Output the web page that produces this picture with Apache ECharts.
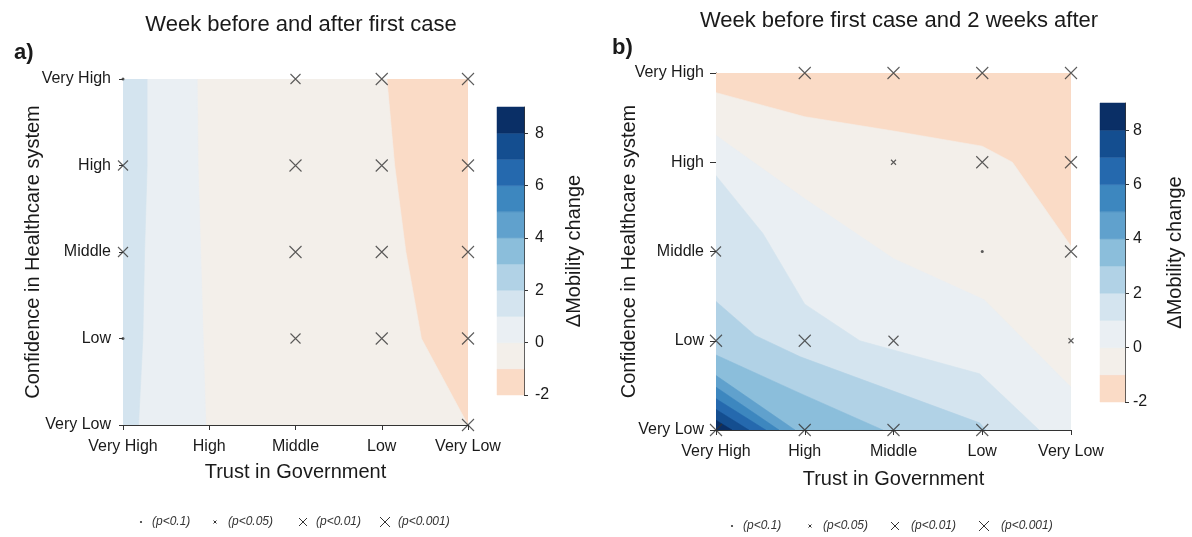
<!DOCTYPE html>
<html><head><meta charset="utf-8">
<script src="https://cdn.jsdelivr.net/npm/echarts@6/dist/echarts.min.js"></script>
<style>html,body{margin:0;padding:0;background:#fff}#c{width:1192px;height:537px}</style>
</head><body><div id="c"></div>
<script>
// ---------- data ----------
const trustLabels = ['Very High','High','Middle','Low','Very Low'];      // x index 0..4
const confLabels  = ['Very Low','Low','Middle','High','Very High'];      // y index 0..4
const levelBreaks = [-2,-1,0,1,2,3,4,5,6,7,8,9];
const levelColors = ['#FADBC6','#F3EFEA','#EAEFF3','#D4E4EF','#B1D2E6','#8BBEDB','#60A1CD','#3D87BF','#2569AE','#144E90','#0A2F66'];
const colorbarTicks = [-2,0,2,4,6,8];

// Panel a: contour lines (x = trust index, y = confidence index), region left of each line has value >= level
const aLine_m1 = [[3.06,4],[3.15,3],[3.28,2],[3.46,1],[4,0]];
const aLine_0  = [[0.86,4],[0.87,3],[0.90,2],[0.93,1],[0.96,0]];
const aLine_1  = [[0.28,4],[0.28,3],[0.25,2],[0.23,1],[0.18,0]];

// Panel b: contour lines, region below-left of each line has value >= level
const bLine_m1 = [[0,3.78],[1,3.51],[2,3.35],[3,3.18],[3.34,3.0],[4,2.06]];
const bLine_0  = [[0,3.30],[1,2.59],[2,1.92],[3.02,1.46],[4,0.48]];
const bLine_1  = [[0,2.85],[0.53,2.2],[1,1.41],[1.62,1.0],[2.97,0.63],[3.64,0]];
const bLine_2  = [[0,1.44],[0.44,1.06],[0.95,0.82],[2.97,0.08],[3.04,0]];
const bLine_3  = [[0,0.84],[0.95,0.41],[1.88,0]];
const bLine_4  = [[0,0.61],[0.89,0]];
const bLine_5  = [[0,0.48],[0.71,0]];
const bLine_6  = [[0,0.35],[0.56,0]];
const bLine_7  = [[0,0.23],[0.37,0]];
const bLine_8  = [[0,0.11],[0.18,0]];

// significance markers [x, y, code]: 1 p<0.1, 2 p<0.05, 3 p<0.01, 4 p<0.001
const aSig = [[0,4,1],[0,3,3],[0,2,3],[0,1,1],
  [2,4,3],[3,4,4],[4,4,4],
  [2,3,4],[3,3,4],[4,3,4],
  [2,2,4],[3,2,4],[4,2,4],
  [2,1,3],[3,1,4],[4,1,4],
  [4,0,4]];
const bSig = [[0,2,3],[0,1,4],[0,0,4],
  [1,4,4],[1,1,4],[1,0,4],
  [2,4,4],[2,3,2],[2,1,3],[2,0,4],
  [3,4,4],[3,3,4],[3,2,1],[3,0,4],
  [4,4,4],[4,3,4],[4,2,4],[4,1,2]];
const sigNames = ['', '(p<0.1)', '(p<0.05)', '(p<0.01)', '(p<0.001)'];

// ---------- build ----------
const FONT = "'Liberation Sans', Arial, sans-serif";
const TXT = '#1a1a1a';
const AX = '#333';
const sigSize = [0, 3, 5, 10, 12];
const X_PATH = 'path://M0,0L10,10M10,0L0,10';
const full = [[0,0],[4,0],[4,4],[0,4]];

function regionsA() {
  const r = [{level:0, poly: full}];
  [[aLine_m1,1],[aLine_0,2],[aLine_1,3]].forEach(([ln,lv]) => {
    r.push({level: lv, poly: ln.concat([[0,0],[0,4]])});
  });
  return r;
}
function regionsB() {
  const r = [{level:0, poly: full}];
  [bLine_m1,bLine_0,bLine_1,bLine_2,bLine_3,bLine_4,bLine_5,bLine_6,bLine_7,bLine_8].forEach((ln,i) => {
    const last = ln[ln.length-1];
    const tail = (last[0] === 4 && last[1] > 0) ? [[4,0],[0,0]] : [[0,0]];
    r.push({level: i+1, poly: ln.concat(tail)});
  });
  return r;
}
function contourSeries(idx, regions) {
  return {
    type:'custom', xAxisIndex: idx, yAxisIndex: idx, silent: true, z: 1, clip: true,
    data: regions.map((r,i) => [0,0,i]),
    encode: {x:0, y:1},
    renderItem: (params, api) => {
      const r = regions[params.dataIndex];
      return {type:'polygon', shape:{points: r.poly.map(p => api.coord(p))},
        style:{fill: levelColors[r.level], stroke: levelColors[r.level], lineWidth: 0.6}};
    }
  };
}
function colorbarSeries(idx) {
  const bands = levelColors.map((c,i) => [0.5, levelBreaks[i], levelBreaks[i+1], i]);
  return {
    type:'custom', xAxisIndex: idx, yAxisIndex: idx, silent: true, z: 1,
    data: bands, encode: {x: 0, y: [1,2]},
    renderItem: (params, api) => {
      const b = bands[params.dataIndex];
      const p1 = api.coord([0, b[2]]), p2 = api.coord([1, b[1]]);
      return {type:'rect', shape:{x:p1[0], y:p1[1], width:p2[0]-p1[0], height:p2[1]-p1[1]},
        style:{fill: levelColors[b[3]], stroke: levelColors[b[3]], lineWidth: 0.5}};
    }
  };
}
function markerSeries(idx, sigArr) {
  const out = [];
  for (let s = 1; s <= 4; s++) {
    const d = sigArr.filter(p => p[2] === s).map(p => [p[0], p[1]]);
    out.push({
      type:'scatter', name: sigNames[s], xAxisIndex: idx, yAxisIndex: idx, z: 5, clip: false, silent: true,
      symbol: s === 1 ? 'circle' : X_PATH, symbolSize: sigSize[s],
      itemStyle: s === 1 ? {color: AX} : {color: 'transparent', borderColor: AX, borderWidth: 1.1},
      data: d
    });
  }
  return out;
}
function mainX(idx, gap) {
  return {gridIndex: idx, type:'value', min:0, max:4, interval:1,
    name:'Trust in Government', nameLocation:'middle', nameGap: gap, nameMoveOverlap: false,
    nameTextStyle:{fontSize:20, color:TXT, fontFamily:FONT},
    axisLine:{show:true, onZero:false, lineStyle:{color:AX, width:1}},
    axisTick:{show:true, length:5, lineStyle:{color:AX}},
    axisLabel:{fontSize:16, color:TXT, margin:14, fontFamily:FONT, formatter: v => trustLabels[v]},
    splitLine:{show:false}};
}
function mainY(idx, gap, tickLen) {
  return {gridIndex: idx, type:'value', min:0, max:4, interval:1,
    name:'Confidence in Healthcare system', nameLocation:'middle', nameGap: gap, nameMoveOverlap: false,
    nameTextStyle:{fontSize:20, color:TXT, fontFamily:FONT},
    axisLine:{show:true, onZero:false, lineStyle:{color:AX, width:1}},
    axisTick:{show:true, length:tickLen, lineStyle:{color:AX}},
    axisLabel:{fontSize:16, color:TXT, margin:12, fontFamily:FONT, formatter: v => confLabels[v]},
    splitLine:{show:false}};
}
function cbX(idx) {
  return {gridIndex: idx, type:'value', min:0, max:1, show:false,
    axisLine:{show:false, onZero:false}, axisTick:{show:false}, axisLabel:{show:false}, splitLine:{show:false}};
}
function cbY(idx, lblMargin) {
  return {gridIndex: idx, type:'value', min:-2, max:9, position:'right',
    name:'\u0394Mobility change', nameLocation:'middle', nameRotate: 90, nameGap: 40, nameMoveOverlap: false,
    nameTextStyle:{fontSize:20, color:TXT, fontFamily:FONT},
    axisLine:{show:true, onZero:false, lineStyle:{color:AX, width:1}},
    axisTick:{show:true, inside:false, length:4, customValues: colorbarTicks, lineStyle:{color:AX}},
    axisLabel:{fontSize:16, color:TXT, margin:lblMargin, fontFamily:FONT, customValues: colorbarTicks},
    splitLine:{show:false}, minorTick:{show:false}};
}
function legendGraphics(items, y) {
  const els = [];
  items.forEach(it => {
    const s = sigSize[it.sig] - 2;
    if (it.sig === 1) {
      els.push({type:'circle', shape:{cx: it.mx, cy: y, r: 1.1}, style:{fill: AX}});
    } else {
      const h = s / 2;
      els.push({type:'line', shape:{x1: it.mx-h, y1: y-h, x2: it.mx+h, y2: y+h}, style:{stroke: AX, lineWidth: 1}});
      els.push({type:'line', shape:{x1: it.mx-h, y1: y+h, x2: it.mx+h, y2: y-h}, style:{stroke: AX, lineWidth: 1}});
    }
    els.push({type:'text', x: it.tx, y: y, style:{text: sigNames[it.sig], font: "italic 12px " + FONT, fill: '#333', verticalAlign: 'middle'}});
  });
  return els;
}

const option = {
  animation: false,
  backgroundColor: '#fff',
  textStyle: {fontFamily: FONT},
  title: [
    {text:'Week before and after first case', left: 296, top: 9, textAlign:'center',
      textStyle:{fontSize:22, fontWeight:'normal', color:TXT, fontFamily:FONT}},
    {text:'Week before first case and 2 weeks after', left: 894, top: 5, textAlign:'center',
      textStyle:{fontSize:22, fontWeight:'normal', color:TXT, fontFamily:FONT}},
    {text:'a)', left: 9, top: 37, textStyle:{fontSize:22, fontWeight:'bold', color:TXT, fontFamily:FONT}},
    {text:'b)', left: 607, top: 32, textStyle:{fontSize:22, fontWeight:'bold', color:TXT, fontFamily:FONT}}
  ],
  grid: [
    {left: 123, top: 79, width: 345, height: 346},
    {left: 716, top: 73, width: 355, height: 357},
    {left: 497, top: 107, width: 27, height: 288},
    {left: 1100, top: 103, width: 25, height: 299}
  ],
  xAxis: [mainX(0, 37), mainX(1, 39), cbX(2), cbX(3)],
  yAxis: [mainY(0, 80, 4), mainY(1, 77, 6), cbY(2, 11), cbY(3, 8)],
  series: [
    contourSeries(0, regionsA()),
    contourSeries(1, regionsB()),
    colorbarSeries(2),
    colorbarSeries(3)
  ].concat(markerSeries(0, aSig), markerSeries(1, bSig)),
  graphic: legendGraphics([
      {sig:1, mx:141, tx:152}, {sig:2, mx:215, tx:228}, {sig:3, mx:303, tx:316}, {sig:4, mx:385, tx:398}
    ], 522).concat(legendGraphics([
      {sig:1, mx:732, tx:743}, {sig:2, mx:810, tx:823}, {sig:3, mx:895, tx:911}, {sig:4, mx:984, tx:1001}
    ], 526))
};
const chart = echarts.init(document.getElementById('c'));
chart.setOption(option);
</script>
</body></html>
